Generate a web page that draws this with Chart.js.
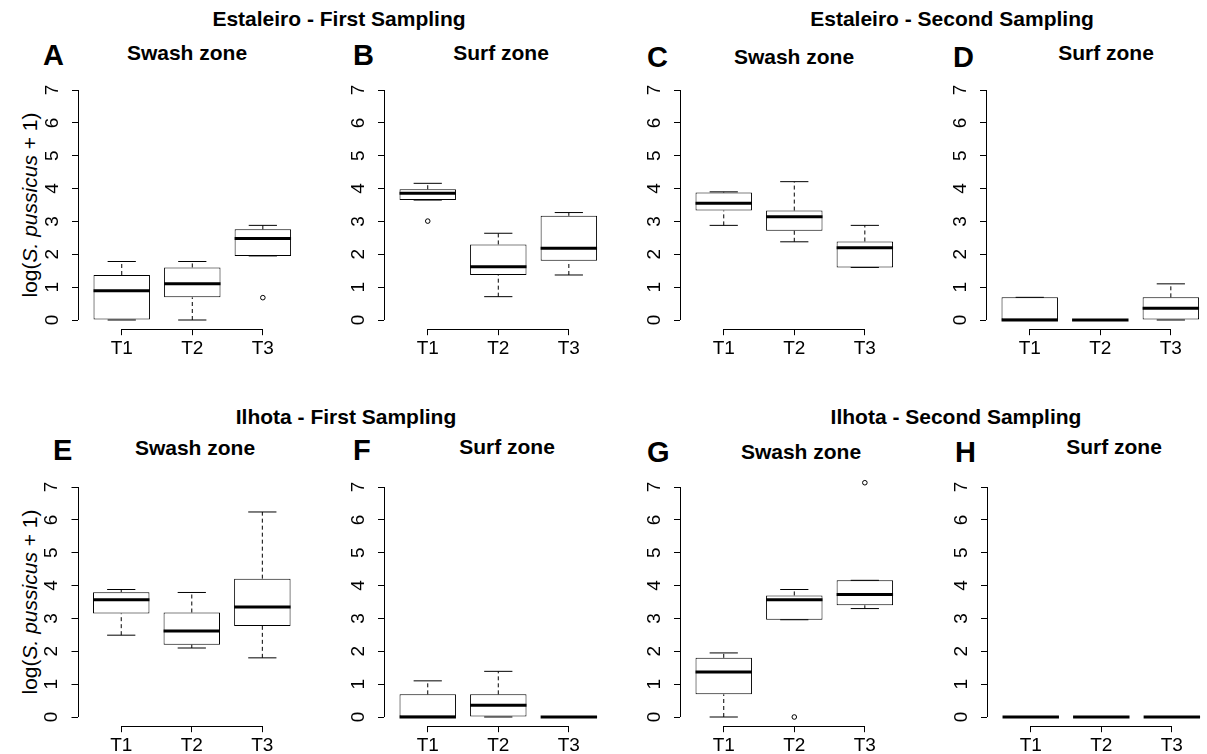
<!DOCTYPE html>
<html>
<head>
<meta charset="utf-8">
<script src="https://cdn.jsdelivr.net/npm/chart.js@4.4.1/dist/chart.umd.min.js"></script>
<style>
  body { margin: 0; background: #fff; width: 1207px; height: 754px; overflow: hidden; position: relative;
         font-family: "Liberation Sans", Arial, sans-serif; color: #000; }
  canvas { position: absolute; }
  .lbl { position: absolute; white-space: nowrap; transform: translate(-50%, -50%); }
  .head { font-weight: bold; font-size: 21px; }
  .letter { font-weight: bold; font-size: 29px; transform: translate(0, -50%); }
  .sub { font-weight: bold; font-size: 21px; }
  .ytitle { font-size: 21px; transform: translate(-50%, -50%) rotate(-90deg); }
</style>
</head>
<body>
<script>
// groups on the x axis and y tick values
var groups = ["T1", "T2", "T3"];
var yTicks = [0, 1, 2, 3, 4, 5, 6, 7];

// each box: [lower whisker, Q1, median, Q3, upper whisker], for T1, T2, T3
var estFirstSwash = [[0, 0, 0.89, 1.37, 1.78], [0, 0.69, 1.10, 1.60, 1.78], [1.95, 1.95, 2.48, 2.76, 2.88]];
var estFirstSurf = [[3.65, 3.65, 3.86, 3.98, 4.16], [0.71, 1.37, 1.62, 2.30, 2.64], [1.37, 1.80, 2.18, 3.17, 3.27]];
var estSecondSwash = [[2.88, 3.33, 3.55, 3.88, 3.90], [2.38, 2.72, 3.14, 3.33, 4.21], [1.60, 1.60, 2.20, 2.39, 2.88]];
var estSecondSurf = [[0, 0, 0, 0.69, 0.69], [0, 0, 0, 0, 0], [0, 0, 0.36, 0.69, 1.10]];
var ilhFirstSwash = [[2.49, 3.15, 3.57, 3.80, 3.88], [2.10, 2.20, 2.62, 3.18, 3.79], [1.80, 2.77, 3.35, 4.21, 6.24]];
var ilhFirstSurf = [[0, 0, 0, 0.69, 1.10], [0, 0, 0.36, 0.69, 1.39], [0, 0, 0, 0, 0]];
var ilhSecondSwash = [[0, 0.69, 1.37, 1.80, 1.95], [2.96, 2.96, 3.57, 3.70, 3.88], [3.30, 3.40, 3.73, 4.16, 4.16]];
var ilhSecondSurf = [[0, 0, 0, 0, 0], [0, 0, 0, 0, 0], [0, 0, 0, 0, 0]];

// outliers per group
var estFirstSwashOut = [[], [], [0.68]];
var estFirstSurfOut = [[3.01], [], []];
var ilhSecondSwashOut = [[], [0], [7.13]];
var noOut = [[], [], []];

var panels = [
  { stats: estFirstSwash, out: estFirstSwashOut, axisX: 78, zeroY: 320 },
  { stats: estFirstSurf, out: estFirstSurfOut, axisX: 384, zeroY: 320 },
  { stats: estSecondSwash, out: noOut, axisX: 680, zeroY: 320 },
  { stats: estSecondSurf, out: noOut, axisX: 986, zeroY: 320 },
  { stats: ilhFirstSwash, out: noOut, axisX: 77.5, zeroY: 717 },
  { stats: ilhFirstSurf, out: noOut, axisX: 384, zeroY: 717 },
  { stats: ilhSecondSwash, out: ilhSecondSwashOut, axisX: 680, zeroY: 717 },
  { stats: ilhSecondSurf, out: noOut, axisX: 987, zeroY: 717 }
];

var texts = [
  ["head", "Estaleiro - First Sampling", 339, 19],
  ["head", "Estaleiro - Second Sampling", 952, 19],
  ["head", "Ilhota - First Sampling", 346, 417],
  ["head", "Ilhota - Second Sampling", 956, 417],
  ["letter", "A", 43, 55], ["letter", "B", 353, 55], ["letter", "C", 647, 57], ["letter", "D", 953, 57],
  ["letter", "E", 53, 450], ["letter", "F", 353, 450], ["letter", "G", 647, 452], ["letter", "H", 955, 452],
  ["sub", "Swash zone", 187, 53], ["sub", "Surf zone", 501, 53], ["sub", "Swash zone", 794, 57], ["sub", "Surf zone", 1106, 53],
  ["sub", "Swash zone", 195, 448], ["sub", "Surf zone", 507, 447], ["sub", "Swash zone", 801, 452], ["sub", "Surf zone", 1114, 447]
];

var FONT = "'Liberation Sans', Arial, sans-serif";

texts.forEach(function (t) {
  var d = document.createElement("div");
  d.className = "lbl " + t[0];
  d.textContent = t[1];
  d.style.left = t[2] + "px";
  d.style.top = t[3] + "px";
  document.body.appendChild(d);
});
[205, 602].forEach(function (y) {
  var d = document.createElement("div");
  d.className = "lbl ytitle";
  d.innerHTML = "log(<i>S. pussicus</i> + 1)";
  d.style.left = "30px";
  d.style.top = y + "px";
  document.body.appendChild(d);
});

// R style axis lines: only from first to last tick
var rAxes = {
  id: "rAxes",
  afterDraw: function (chart) {
    var c = chart.ctx;
    var xs = chart.scales.x, ys = chart.scales.y, area = chart.chartArea;
    var x0 = Math.round(area.left) + 0.5;
    var yb = Math.round(area.bottom) + 0.5;
    c.save();
    c.setLineDash([]);
    c.strokeStyle = "#000";
    c.lineWidth = 1;
    c.beginPath();
    c.moveTo(x0, ys.getPixelForValue(yTicks[0]));
    c.lineTo(x0, ys.getPixelForValue(yTicks[yTicks.length - 1]));
    c.stroke();
    c.beginPath();
    c.moveTo(xs.getPixelForValue(1), yb);
    c.lineTo(xs.getPixelForValue(groups.length), yb);
    c.stroke();
    c.restore();
  }
};

var unit = 230 / 7, spacing = 70.55;
var SCALE_W = 40, SCALE_H = 40;

panels.forEach(function (p) {
  var plotTop = p.zeroY - 7.28 * unit, plotBottom = p.zeroY + 0.28 * unit;
  var plotW = 3.24 * spacing;
  var cl = Math.floor(p.axisX - SCALE_W - 2), ct = Math.floor(plotTop - 6);
  var cw = 280, ch = Math.ceil(plotBottom + SCALE_H - ct) + 1;
  var pad = {
    left: p.axisX - SCALE_W - cl,
    top: plotTop - ct,
    right: cw - (p.axisX - cl) - plotW,
    bottom: ch - SCALE_H - (plotBottom - ct)
  };
  var cv = document.createElement("canvas");
  cv.width = cw; cv.height = ch;
  cv.style.left = cl + "px"; cv.style.top = ct + "px";
  document.body.appendChild(cv);

  var boxes = [], whisk = [], staples = [], medians = [], outs = [];
  p.stats.forEach(function (s, i) {
    var x = i + 1;
    boxes.push({ x: x, y: [s[1], s[3]] });
    whisk.push({ x: x, y: s[3] }, { x: x, y: s[4] }, { x: x, y: null },
               { x: x, y: s[0] }, { x: x, y: s[1] }, { x: x, y: null });
    staples.push({ x: x - 0.2, y: s[4] }, { x: x + 0.2, y: s[4] }, { x: x, y: null },
                 { x: x - 0.2, y: s[0] }, { x: x + 0.2, y: s[0] }, { x: x, y: null });
    medians.push({ x: x - 0.4, y: s[2] }, { x: x + 0.4, y: s[2] }, { x: x, y: null });
    p.out[i].forEach(function (v) { outs.push({ x: x, y: v }); });
  });

  new Chart(cv.getContext("2d"), {
    type: "bar",
    data: {
      datasets: [
        { type: "line", data: medians, borderColor: "#000", borderWidth: 3, pointRadius: 0,
          spanGaps: false, borderCapStyle: "butt", order: 0 },
        { type: "line", data: outs, showLine: false, pointBorderColor: "#000", pointBackgroundColor: "#fff",
          pointBorderWidth: 1, pointRadius: 2.3, order: 1 },
        { type: "line", data: staples, borderColor: "#000", borderWidth: 1, pointRadius: 0,
          spanGaps: false, order: 2 },
        { type: "line", data: whisk, borderColor: "#000", borderWidth: 1, borderDash: [4, 3],
          pointRadius: 0, spanGaps: false, order: 3 },
        { data: boxes, backgroundColor: "#fff", borderColor: "#000", borderWidth: 1,
          borderSkipped: false, barPercentage: 1, categoryPercentage: 0.8, order: 4 }
      ]
    },
    options: {
      responsive: false,
      animation: false,
      devicePixelRatio: 1,
      events: [],
      layout: { padding: pad },
      plugins: { legend: { display: false }, tooltip: { enabled: false }, title: { display: false } },
      scales: {
        x: {
          type: "linear", min: 0.38, max: 3.62, offset: false,
          afterBuildTicks: function (s) { s.ticks = groups.map(function (g, i) { return { value: i + 1 }; }); },
          afterFit: function (s) { s.height = SCALE_H; s.paddingLeft = 0; s.paddingRight = 0; },
          border: { display: false },
          grid: { offset: false, drawOnChartArea: false, drawTicks: true, tickLength: 6, tickColor: "#000", tickWidth: 1 },
          ticks: { color: "#000", font: { family: FONT, size: 19 }, padding: 2, maxRotation: 0, autoSkip: false,
                   callback: function (v) { return groups[v - 1]; } }
        },
        y: {
          type: "linear", min: -0.28, max: 7.28,
          afterBuildTicks: function (s) { s.ticks = yTicks.map(function (v) { return { value: v }; }); },
          afterFit: function (s) { s.width = SCALE_W; s.paddingTop = 0; s.paddingBottom = 0; },
          border: { display: false },
          grid: { drawOnChartArea: false, drawTicks: true, tickLength: 6, tickColor: "#000", tickWidth: 1 },
          ticks: { color: "#000", font: { family: FONT, size: 19 }, padding: 14, minRotation: 90, maxRotation: 90,
                   crossAlign: "center", autoSkip: false }
        }
      }
    },
    plugins: [rAxes]
  });
});
</script>
</body>
</html>
